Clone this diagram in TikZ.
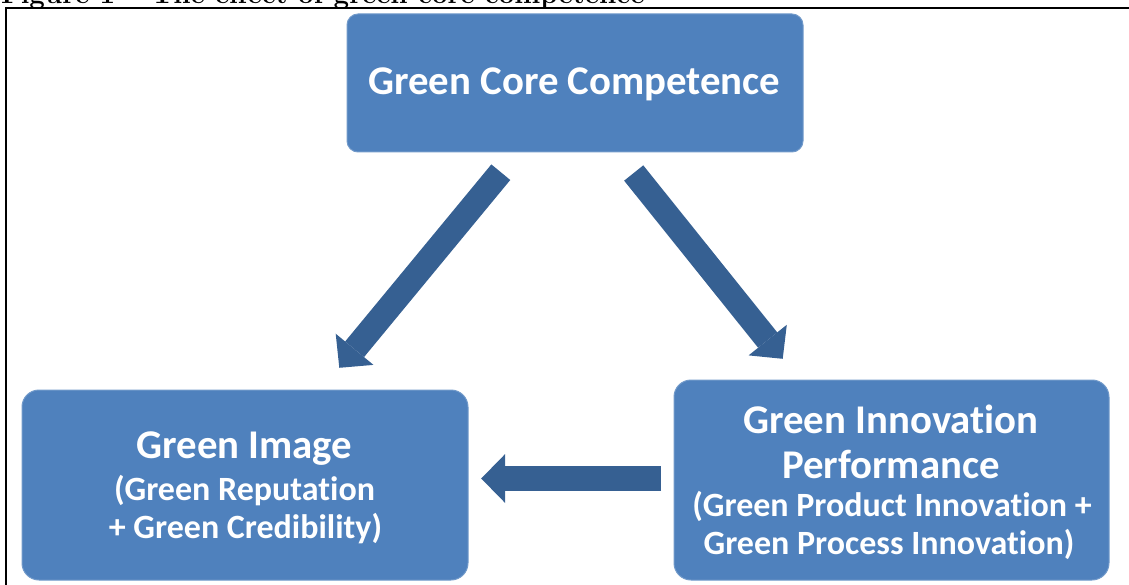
\documentclass[tikz,border=0pt]{standalone}
\usepackage{fontspec}
\newfontfamily\calib[Ligatures=NoCommon]{Carlito}
\usetikzlibrary{arrows.meta,calc}
\definecolor{boxblue}{HTML}{4F81BD}
\definecolor{boxedge}{HTML}{729ACA}
\definecolor{arrowblue}{HTML}{366092}

\begin{document}
\begin{tikzpicture}[x=1pt,y=-1pt,
  box/.style={draw=boxedge, line width=1pt, fill=boxblue, rounded corners=#1, inner sep=0pt},
  box/.default=17pt,
  bigline/.style={text=white, font=\calib\bfseries\fontsize{40.8}{48}\selectfont, anchor=base, inner sep=0pt},
  smallline/.style={text=white, font=\calib\bfseries\fontsize{34}{40}\selectfont, anchor=base, inner sep=0pt},
  blockarrow/.style={draw=arrowblue, line width=24.5pt,
    -{Triangle[width=49pt,length=24pt,line width=0pt]}}]
\useasboundingbox (0,0) rectangle (1129,585);

% caption above the frame
\node[anchor=base west, inner sep=0pt, font=\bfseries\fontsize{27.7}{32}\selectfont] (title) at (1,3.3)
  {Figure 1 – The effect of green core competence};

% frame
\draw[line width=2.2pt] (1140,8.3) -- (6.2,8.3) -- (6.2,600);

% boxes
\node[box=11pt, minimum width=456pt, minimum height=138pt] (core) at (575,83) {};
\node[box, minimum width=446pt, minimum height=190pt] (image) at (245,485) {};
\node[box, minimum width=435pt, minimum height=200pt] (innov) at (891.5,480) {};

% box texts
\node[bigline] (coreT) at (574.5,95) {Green Core Competence};

\node[bigline] (imageT1) at (244.5,458.3) {Green Image};
\node[smallline] (imageT2) at (244.5,500) {(Green Reputation};
\node[smallline] (imageT3) at (245.5,538.3) {+ Green Credibility)};

\node[bigline] (innovT1) at (891,433) {Green Innovation};
\node[bigline] (innovT2) at (891,478.3) {Performance};
\node[smallline] (innovT3) at (892,516.7) {(Green Product Innovation +};
\node[smallline] (innovT4) at (889,554.3) {Green Process Innovation)};

% arrow end points
\coordinate (a1s) at ($(core.south)+(-74.2,19.7)$);
\coordinate (a1e) at ($(image.north)+(94.3,-21.7)$);
\coordinate (a2s) at ($(core.south)+(58.7,20.5)$);
\coordinate (a2e) at ($(innov.north)+(-108.8,-20.7)$);
\coordinate (a3s) at ($(innov.west)+(-12.3,-1.5)$);
\coordinate (a3e) at ($(image.east)+(12.7,-6.5)$);

% block arrows
\draw[blockarrow] (a1s) -- (a1e);
\draw[blockarrow] (a2s) -- (a2e);
\draw[blockarrow] (a3s) -- (a3e);
\end{tikzpicture}
\end{document}
